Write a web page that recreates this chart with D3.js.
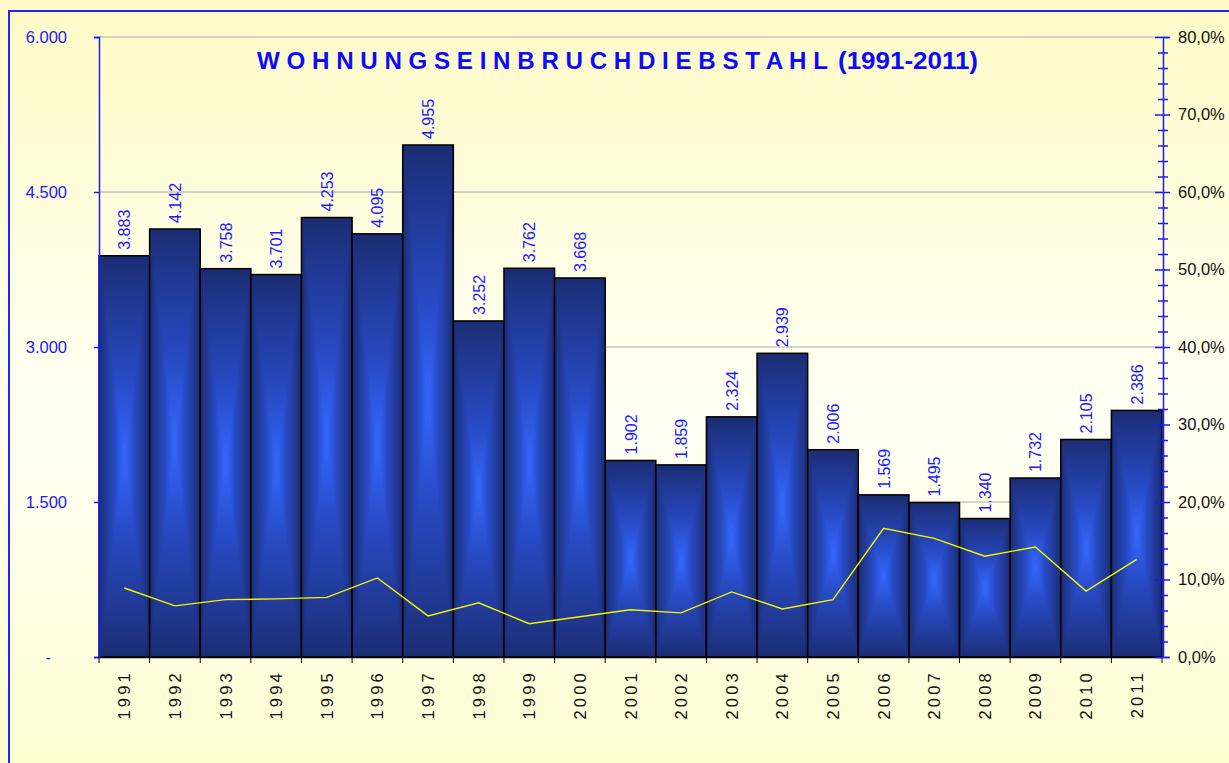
<!DOCTYPE html>
<html>
<head>
<meta charset="utf-8">
<script src="https://cdn.jsdelivr.net/npm/d3@7"></script>
<style>
  html, body { margin: 0; padding: 0; background: #fff; }
  svg { display: block; font-family: "Liberation Sans", Arial, sans-serif; }
</style>
</head>
<body>
<div id="chart"></div>
<script>
// values
const years = ["1991","1992","1993","1994","1995","1996","1997","1998","1999","2000",
  "2001","2002","2003","2004","2005","2006","2007","2008","2009","2010","2011"];
const cases = [3883, 4142, 3758, 3701, 4253, 4095, 4955, 3252, 3762, 3668,
  1902, 1859, 2324, 2939, 2006, 1569, 1495, 1340, 1732, 2105, 2386];
// yellow line, right axis (share in %)
const quota = [8.9, 6.6, 7.4, 7.5, 7.7, 10.2, 5.3, 7.0, 4.3, 5.2,
  6.1, 5.7, 8.4, 6.2, 7.4, 16.6, 15.3, 13.0, 14.2, 8.5, 12.6];
const leftTicks = [0, 1500, 3000, 4500, 6000];
const titleWord = "W O H N U N G S E I N B R U C H D I E B S T A H L";
const titleYears = "(1991-2011)";

const width = 1229, height = 763;
const plot = { left: 99, right: 1162, top: 37, bottom: 657 };

const de = d3.formatLocale({ decimal: ",", thousands: ".", grouping: [3], currency: ["", "€"] });
const fmtNum = de.format(",d");
const fmtPct = (d) => de.format(".1f")(d) + "%";

const svg = d3.select("#chart").append("svg")
  .attr("width", width).attr("height", height);

const defs = svg.append("defs");

// chart background: yellow at top and bottom, almost white in the middle
const bg = defs.append("linearGradient").attr("id", "bg")
  .attr("x1", 0).attr("y1", 0).attr("x2", 0).attr("y2", 1);
bg.append("stop").attr("offset", 0).attr("stop-color", "#fffac6");
bg.append("stop").attr("offset", 0.55).attr("stop-color", "#fffff4");
bg.append("stop").attr("offset", 1).attr("stop-color", "#fffdd2");

// bar colours, edge -> centre
const ramp = ["#1a2c72", "#20378f", "#2749c2", "#3368ff"];
function addGrad(id, vertical, stops) {
  const g = defs.append("linearGradient").attr("id", id)
    .attr("x1", 0).attr("y1", 0).attr("x2", vertical ? 0 : 1).attr("y2", vertical ? 1 : 0);
  stops.forEach(([o, c]) => g.append("stop").attr("offset", o).attr("stop-color", c));
}
addGrad("barH", false, [[0, ramp[0]], [0.1, ramp[1]], [0.3, ramp[2]], [0.5, ramp[3]],
  [0.7, ramp[2]], [0.9, ramp[1]], [1, ramp[0]]]);
addGrad("barTop", true, [[0, ramp[0]], [0.2, ramp[1]], [0.6, ramp[2]], [1, ramp[3]]]);
addGrad("barBot", true, [[0, ramp[3]], [0.4, ramp[2]], [0.8, ramp[1]], [1, ramp[0]]]);

svg.append("rect").attr("x", 0).attr("y", 0).attr("width", width).attr("height", height)
  .attr("fill", "url(#bg)");
svg.append("rect").attr("x", 9).attr("y", 11).attr("width", width + 10).attr("height", height + 10)
  .attr("fill", "none").attr("stroke", "#2323ff").attr("stroke-width", 2);

const x = d3.scaleBand().domain(years).range([plot.left, plot.right]).padding(0);
const y = d3.scaleLinear().domain([0, 6000]).range([plot.bottom, plot.top]);
const y2 = d3.scaleLinear().domain([0, 80]).range([plot.bottom, plot.top]);

// gridlines
svg.append("g").selectAll("line")
  .data(leftTicks.filter((d) => d > 0))
  .join("line")
  .attr("x1", plot.left).attr("x2", plot.right)
  .attr("y1", (d) => y(d)).attr("y2", (d) => y(d))
  .attr("stroke", "#a8a8a8").attr("stroke-width", 1);

// bars: rectangular "from centre" gradient built from a rect and two triangles
const bars = svg.append("g").selectAll("g")
  .data(years.map((yr, i) => ({ year: yr, value: cases[i], quota: quota[i] })))
  .join("g");

bars.append("rect")
  .attr("x", (d) => x(d.year)).attr("y", (d) => y(d.value))
  .attr("width", x.bandwidth()).attr("height", (d) => y(0) - y(d.value))
  .attr("fill", "url(#barH)");

bars.append("path")
  .attr("d", (d) => {
    const x0 = x(d.year), x1 = x0 + x.bandwidth(), t = y(d.value), b = y(0);
    const cx = (x0 + x1) / 2, cy = (t + b) / 2;
    return `M${x0},${t}L${x1},${t}L${cx},${cy}Z`;
  })
  .attr("fill", "url(#barTop)");

bars.append("path")
  .attr("d", (d) => {
    const x0 = x(d.year), x1 = x0 + x.bandwidth(), t = y(d.value), b = y(0);
    const cx = (x0 + x1) / 2, cy = (t + b) / 2;
    return `M${x0},${b}L${x1},${b}L${cx},${cy}Z`;
  })
  .attr("fill", "url(#barBot)");

bars.append("rect")
  .attr("x", (d) => x(d.year)).attr("y", (d) => y(d.value))
  .attr("width", x.bandwidth()).attr("height", (d) => y(0) - y(d.value))
  .attr("fill", "none").attr("stroke", "#000").attr("stroke-width", 1.5);

// value labels, rotated
bars.append("text")
  .attr("transform", (d) => `translate(${x(d.year) + x.bandwidth() / 2 + 6},${y(d.value) - 6}) rotate(-90)`)
  .attr("font-size", 16).attr("fill", "#1a1aff")
  .text((d) => fmtNum(d.value));

// yellow share line
const line = d3.line()
  .x((d) => x(d.year) + x.bandwidth() / 2)
  .y((d) => y2(d.quota));
svg.append("path").datum(bars.data())
  .attr("d", line).attr("fill", "none")
  .attr("stroke", "#f4f400").attr("stroke-width", 1.4);

// left axis
const leftAxis = svg.append("g").attr("transform", `translate(${plot.left},0)`)
  .call(d3.axisLeft(y).tickValues(leftTicks).tickSize(5).tickPadding(27)
    .tickFormat((d) => (d === 0 ? "-" : fmtNum(d))));
leftAxis.select(".domain").attr("stroke", "#1a1aff").attr("stroke-width", 1.5);
leftAxis.selectAll(".tick line").attr("stroke", "#1a1aff").attr("stroke-width", 1.5);
leftAxis.selectAll(".tick text")
  .attr("font-size", 16.5).attr("font-family", null).attr("fill", "#1a1aff")
  .filter((d) => d === 0).attr("dx", -16);

// bottom axis
const bottomAxis = svg.append("g").attr("transform", `translate(0,${plot.bottom})`)
  .call(d3.axisBottom(x).tickSize(0).tickPadding(0));
bottomAxis.select(".domain").attr("stroke", "#000").attr("stroke-width", 1.5);
bottomAxis.selectAll(".tick text")
  .attr("transform", "translate(6,13) rotate(-90)")
  .attr("text-anchor", "end").attr("dy", 0)
  .attr("font-size", 16.5).attr("font-family", null).attr("fill", "#111")
  .attr("letter-spacing", 3.2);
svg.append("g").selectAll("line")
  .data(years.concat(["end"]))
  .join("line")
  .attr("x1", (d, i) => plot.left + i * x.bandwidth()).attr("x2", (d, i) => plot.left + i * x.bandwidth())
  .attr("y1", plot.bottom).attr("y2", plot.bottom + 6)
  .attr("stroke", "#000").attr("stroke-width", 1);

// right axis
const rightAxis = svg.append("g").attr("transform", `translate(${plot.right + 1},0)`)
  .call(d3.axisRight(y2).tickValues(d3.range(0, 81, 2)).tickSize(6).tickPadding(8)
    .tickFormat((d) => (d % 10 === 0 ? fmtPct(d) : "")));
rightAxis.select(".domain").attr("stroke", "#1a1aff").attr("stroke-width", 1.5);
rightAxis.selectAll(".tick line")
  .attr("stroke", "#1a1aff").attr("stroke-width", 1.5)
  .attr("x1", (d) => (d % 10 === 0 ? -8 : -5))
  .attr("x2", (d) => (d % 10 === 0 ? 7 : 5));
rightAxis.selectAll(".tick text")
  .attr("x", 15)
  .attr("font-size", 16.5).attr("font-family", null).attr("fill", "#111");

// title
const title = svg.append("g").attr("font-weight", "bold").attr("fill", "#0a0aff").attr("font-size", 24);
title.append("text").attr("x", 257).attr("y", 69)
  .attr("textLength", 571).attr("lengthAdjust", "spacingAndGlyphs")
  .text(titleWord);
title.append("text").attr("x", 838).attr("y", 69)
  .attr("textLength", 140).attr("lengthAdjust", "spacingAndGlyphs")
  .text(titleYears);
</script>
</body>
</html>
